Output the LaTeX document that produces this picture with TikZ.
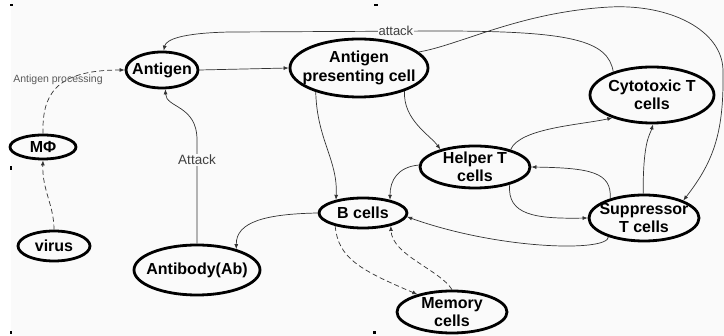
\documentclass[tikz,border=0pt]{standalone}
\usepackage{fontspec}
\setmainfont{Liberation Sans}
\usetikzlibrary{shapes.geometric,arrows.meta}
\begin{document}
\begin{tikzpicture}[x=1pt,y=-1pt,
 cell/.style={ellipse,draw=black,line width=2.8pt,inner sep=0pt},
 txt/.style={align=center,inner sep=0pt,font=\fontsize{16}{18.5}\selectfont\bfseries},
 conn/.style={draw=black!80,line width=0.7pt,-{Latex[length=5pt,width=4pt]}},
 dconn/.style={conn,dash pattern=on 5pt off 3pt},
 lbl/.style={fill=black!2,inner sep=1pt,text=black!75},
 tick/.style={fill=black}]
\useasboundingbox (0,0) rectangle (724,336);
\fill[black!2] (11,0) rectangle (724,336);
% tick marks
\fill[tick] (10,4) rectangle (13,6);
\fill[tick] (10,166) rectangle (12,170);
\fill[tick] (10,331) rectangle (12,334);
\fill[tick] (374,4) rectangle (378,6);
\fill[tick] (373,331) rectangle (376,334);
% nodes
\node[cell,minimum width=72pt,minimum height=36pt] (Antigen) at (162,70) {};
\node[txt] (Antigent) at (Antigen) {Antigen};
\node[cell,minimum width=138pt,minimum height=58pt] (APC) at (359,68) {};
\node[txt] (APCt) at (APC) {Antigen\\presenting cell};
\node[cell,minimum width=124pt,minimum height=56pt] (Cyto) at (652,95) {};
\node[txt] (Cytot) at (Cyto) {Cytotoxic T\\cells};
\node[cell,minimum width=110pt,minimum height=42pt] (Helper) at (475,167) {};
\node[txt] (Helpert) at (Helper) {Helper T\\cells};
\node[cell,minimum width=88pt,minimum height=30pt] (B) at (363,213) {};
\node[txt] (Bt) at (B) {B cells};
\node[cell,minimum width=110pt,minimum height=46pt] (Supp) at (644,218) {};
\node[txt] (Suppt) at (Supp) {Suppressor\\T cells};
\node[cell,minimum width=110pt,minimum height=42pt] (Mem) at (452,312) {};
\node[txt] (Memt) at (Mem) {Memory\\cells};
\node[cell,minimum width=126pt,minimum height=50pt] (Ab) at (197,270) {};
\node[txt] (Abt) at (Ab) {Antibody(Ab)};
\node[cell,minimum width=72pt,minimum height=30pt] (virus) at (54,246) {};
\node[txt] (virust) at (virus) {virus};
\node[cell,minimum width=66pt,minimum height=24pt] (MPhi) at (43,147) {};
\node[txt] (MPhit) at (MPhi) {MΦ};
% connectors
\draw[dconn] (virus.90) .. controls (54,205) and (42,190) .. (MPhi.270);
\draw[dconn] (MPhi.90) .. controls (42,95) and (55,70) .. (Antigen.180);
\node[text=black!65,font=\fontsize{10.5}{12}\selectfont,inner sep=0pt] (procl) at (58,80) {Antigen processing};
\draw[conn] (Antigen.0) -- (APC.180);
\draw[conn] (Ab.90) -- node[lbl,pos=0.81,font=\fontsize{13.5}{15}\selectfont] (attl) {Attack} (197,140) .. controls (197,105) and (166,108) .. (Antigen.280);
\draw[conn] (Cyto.149) .. controls (608,40) and (570,31) .. (440,31) -- node[lbl,pos=0.21,font=\fontsize{13}{15}\selectfont] (att2) {attack} (230,32) .. controls (180,33) and (166,40) .. (Antigen.85);
\draw[conn] (APC.15) .. controls (460,45) and (520,12) .. (610,7) .. controls (670,4) and (722,30) .. (723,70) .. controls (724,130) and (715,160) .. (Supp.24);
\draw[conn] (APC.209) .. controls (317,140) and (338,160) .. (B.154);
\draw[conn] (APC.333) .. controls (403,120) and (430,135) .. (Helper.153);
\draw[conn] (Helper.26) .. controls (520,128) and (580,125) .. (Cyto.210);
\draw[conn] (Helper.178) .. controls (398,167) and (390,180) .. (B.26);
\draw[conn] (Helper.333) .. controls (507,215) and (535,219) .. (Supp.180);
\draw[conn] (Supp.150) .. controls (612,172) and (590,168) .. (Helper.0);
\draw[conn] (Supp.92) .. controls (643,140) and (650,135) .. (Cyto.272);
\draw[conn] (Supp.208) .. controls (608,252) and (500,250) .. (B.355);
\draw[conn] (B.180) .. controls (265,214) and (236,222) .. (Ab.28);
\draw[dconn] (B.205) .. controls (338,258) and (360,270) .. (Mem.153);
\draw[dconn] (Mem.90) .. controls (440,270) and (392,255) .. (B.335);
\end{tikzpicture}
\end{document}
